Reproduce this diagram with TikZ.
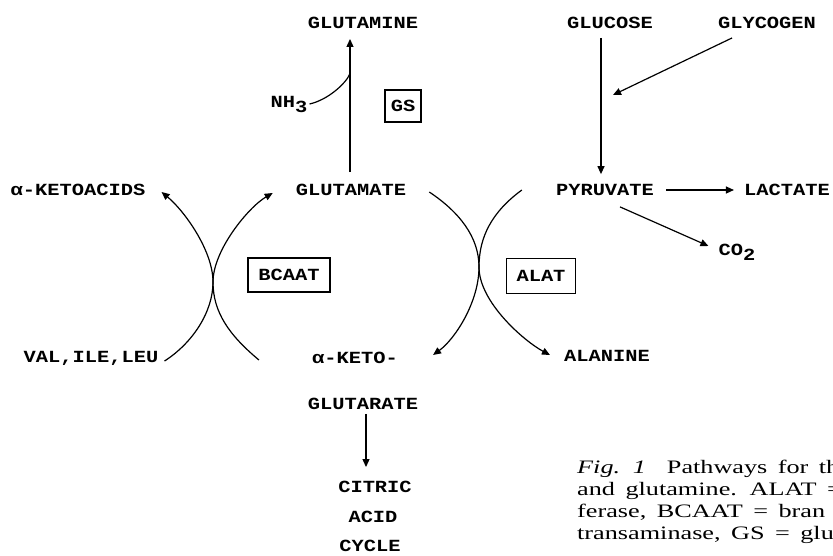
\documentclass[tikz,border=0pt]{standalone}
\usepackage{fontspec}
\setmainfont{Liberation Serif}
\newfontfamily\labfont[FakeStretch=1.2]{Liberation Mono}
\newfontfamily\capfont[FakeStretch=1.38,WordSpace=1.6]{Liberation Serif}
\usetikzlibrary{arrows.meta,calc}
\begin{document}
\begin{tikzpicture}[x=1pt,y=-1pt,
  lab/.style={font=\labfont\bfseries\fontsize{17}{20}\selectfont, inner sep=0pt, anchor=center},
  enz/.style={lab, draw, line width=1.6pt, inner xsep=6pt, inner ysep=7pt},
  conn/.style={line width=1.2pt, -{Triangle[length=8pt,width=7pt]}},
  plain/.style={line width=1.2pt}
]
\useasboundingbox[fill=white] (0,0) rectangle (833,555);

% metabolites
\node[lab] (glutamine) at (363,23) {GLUTAMINE};
\node[lab] (glucose)   at (610,23) {GLUCOSE};
\node[lab] (glycogen)  at (767,23) {GLYCOGEN};
\node[lab] (nh3)       at (289,104) {NH\raisebox{-5pt}{3}};
\node[lab] (ketoacids) at (78,190) {α-KETOACIDS};
\node[lab] (glutamate) at (351,190) {GLUTAMATE};
\node[lab] (pyruvate)  at (605,190) {PYRUVATE};
\node[lab] (lactate)   at (787,190) {LACTATE};
\node[lab] (co2)       at (737,252) {CO\raisebox{-5pt}{2}};
\node[lab] (valileleu) at (91,358) {VAL,ILE,LEU};
\node[lab] (aketo)     at (355,358) {α-KETO-};
\node[lab] (alanine)   at (607,356) {ALANINE};
\node[lab] (glutarate) at (363,404) {GLUTARATE};
\node[lab] (citric)    at (375,487) {CITRIC};
\node[lab] (acid)      at (373,517) {ACID};
\node[lab] (cycle)     at (370,546) {CYCLE};

% enzymes
\node[enz, minimum width=36pt, minimum height=32pt] (gs)    at (403,106) {GS};
\node[enz, minimum width=82pt, minimum height=34pt] (bcaat) at (289,275) {BCAAT};
\node[enz, minimum width=69pt, minimum height=35pt] (alat)  at (541,276) {ALAT};

% glutamine synthesis
\draw[conn] ($(glutamate.north)+(-1,-12)$) -- ($(glutamate.north |- glutamine.south)+(-1,10)$);
\coordinate (nhjoin) at ($(glutamate.north |- nh3.north)+(-1,-22)$);
\draw[plain] ($(nh3.east)+(2,0)$) .. controls +(18,-4) and +(-4,10) .. (nhjoin);

% glucose / glycogen
\draw[conn] ($(glucose.south)+(-9,9)$) -- ($(pyruvate.north)+(-4,-10)$);
\coordinate (glyend) at (613,95);
\draw[conn] ($(glycogen.south)+(-35,9)$) -- (glyend);
\draw[conn, shorten <=12pt, shorten >=10pt] (pyruvate) -- (lactate);
\draw[conn] ($(pyruvate.south)+(15,11)$) -- ($(co2.west)+(-10,-6)$);

% BCAAT transamination
\coordinate (bx) at (213,282);
\draw[conn] ($(valileleu.east)+(6,3)$) .. controls +(28,-18) and +(0,30) .. (bx)
  .. controls +(0,-32) and +(22,18) .. ($(ketoacids.east)+(16,2)$);
\draw[conn] ($(aketo.west)+(-53,2)$) .. controls +(-30,-25) and +(0,30) .. (bx)
  .. controls +(0,-32) and +(-24,14) .. ($(glutamate.west)+(-23,3)$);

% ALAT transamination
\coordinate (ax) at (479,267);
\draw[conn] ($(glutamate.east)+(23,2)$) .. controls +(30,20) and +(0,-30) .. (ax)
  .. controls +(0,35) and +(22,-16) .. ($(aketo.east)+(35,-3)$);
\draw[conn] ($(pyruvate.west)+(-34,0)$) .. controls +(-30,22) and +(0,-30) .. (ax)
  .. controls +(0,35) and +(-26,-14) .. ($(alanine.west)+(-14,-1)$);

% citric acid cycle
\draw[conn] ($(glutarate.south)+(3,4)$) -- ($(citric.north)+(-9,-14)$);

% caption
\node[anchor=north west, align=left, inner sep=0pt,
      font=\capfont\fontsize{19}{22}\selectfont] (caption) at (577,460)
  {\textit{Fig. 1}\ \ Pathways for th\\ and glutamine. ALAT =\\ ferase, BCAAT = bran\\ transaminase, GS = glu};
\end{tikzpicture}
\end{document}
